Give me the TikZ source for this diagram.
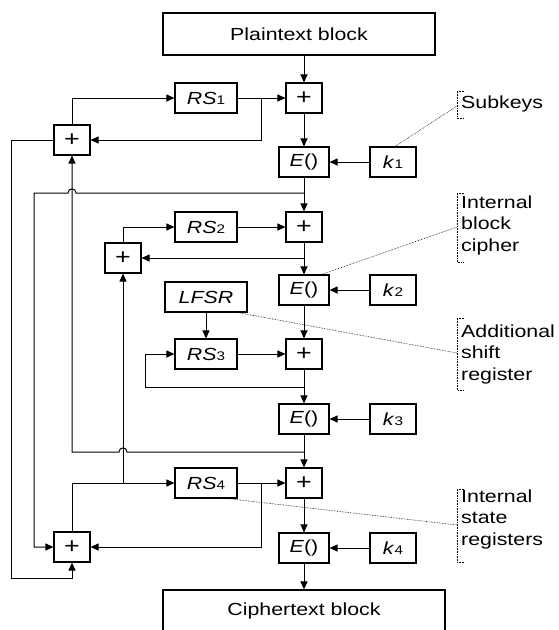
\documentclass[tikz,border=0pt]{standalone}
\usepackage{fontspec}
\setmainfont{Liberation Sans}[FakeStretch=1.22]
\usetikzlibrary{arrows.meta,calc}
\tikzset{
 blk/.style={draw, line width=1.1pt, minimum height=30pt, inner sep=0pt, font=\fontsize{17.5}{20}\selectfont},
 xorbox/.style={blk, minimum width=36pt, font=\fontsize{22}{22}\selectfont},
 ebox/.style={blk, minimum width=50pt},
 kbox/.style={blk, minimum width=46pt},
 rsbox/.style={blk, minimum width=62pt},
 bigbox/.style={blk, minimum height=42pt},
 arr/.style={line width=1pt, -{Triangle[length=8pt,width=7pt]}},
 lead/.style={densely dotted, line width=0.6pt},
 lbl/.style={anchor=west, align=left, inner sep=0pt, font=\fontsize{17.5}{21.5}\selectfont},
}
\newcommand{\smd}[1]{{\fontsize{12.5}{12.5}\selectfont #1}}
\begin{document}
\begin{tikzpicture}[x=1pt,y=-1pt]
\useasboundingbox (0,0) rectangle (558,630);
\clip (0,0) rectangle (558,630);
% main column
\node[bigbox, minimum width=272pt] (plain) at (299,34) {Plaintext block};
\node[xorbox] (x1) at (304,98) {+};
\node[ebox] (e1) at (304,162) {\textit{E}()};
\node[kbox] (k1) at (393,162) {\textit{k}\smd{1}};
\node[xorbox] (x2) at (304,227) {+};
\node[ebox] (e2) at (304,290) {\textit{E}()};
\node[kbox] (k2) at (393,290) {\textit{k}\smd{2}};
\node[xorbox] (x3) at (304,354) {+};
\node[ebox] (e3) at (304,419) {\textit{E}()};
\node[kbox] (k3) at (393,419) {\textit{k}\smd{3}};
\node[xorbox] (x4) at (304,483) {+};
\node[ebox] (e4) at (304,548) {\textit{E}()};
\node[kbox] (k4) at (393,548) {\textit{k}\smd{4}};
\node[bigbox, minimum width=282pt] (cipher) at (304,611) {Ciphertext block};
% registers
\node[rsbox] (rs1) at (206,98) {\textit{RS}\smd{1}};
\node[rsbox] (rs2) at (206,227) {\textit{RS}\smd{2}};
\node[rsbox, minimum width=82pt] (lfsr) at (206,297) {\textit{LFSR}};
\node[rsbox] (rs3) at (206,354) {\textit{RS}\smd{3}};
\node[rsbox] (rs4) at (206,483) {\textit{RS}\smd{4}};
% left xors
\node[xorbox] (a1) at (72,140) {+};
\node[xorbox] (a2) at (123,258) {+};
\node[xorbox] (a4) at (72,547) {+};
% junction coordinates
\coordinate (t1) at (304,193);
\coordinate (t2) at (304,258);
\coordinate (t3) at (304,387);
\coordinate (t4) at (304,452);
\coordinate (b1) at (261,98);
\coordinate (b4) at (261,483);
\coordinate (j4) at (123,483);
\coordinate (c1) at (11,578);
% main flow
\draw[arr] (plain.south -| x1.north) -- (x1.north);
\draw[arr] (x1) -- (e1);
\draw[arr] (e1) -- (x2);
\draw[arr] (x2) -- (e2);
\draw[arr] (e2) -- (x3);
\draw[arr] (x3) -- (e3);
\draw[arr] (e3) -- (x4);
\draw[arr] (x4) -- (e4);
\draw[arr] (e4) -- (e4 |- cipher.north);
\draw[arr] (k1) -- (e1);
\draw[arr] (k2) -- (e2);
\draw[arr] (k3) -- (e3);
\draw[arr] (k4) -- (e4);
\draw[arr] (rs1) -- (x1);
\draw[arr] (rs2) -- (x2);
\draw[arr] (rs3) -- (x3);
\draw[arr] (rs4) -- (x4);
\draw[arr] (lfsr) -- (rs3);
% feedback
\draw[arr] (a1.north) |- (rs1.west);
\draw[arr] (b1) |- (a1.east);
\draw[arr] (a1.west) -| (c1) -| (a4.south);
\draw[arr] (t1) -- (76,193) .. controls (76,187.5) and (68,187.5) .. (68,193) -- (34,193) |- (a4.west);
\draw[arr] (t2) -- (a2.east);
\draw[arr] (a2.north) |- (rs2.west);
\draw[arr] (t3) -- (145,387) |- (rs3.west);
\draw[arr] (t4) -- (127,452) .. controls (127,446.5) and (119,446.5) .. (119,452) -| (a1.south);
\draw[arr] (a4.north) |- (rs4.west);
\draw[arr] (j4) -- (a2.south);
\draw[arr] (b4) |- (a4.east);
% labels
\node[lbl] (l1) at (461,104) {Subkeys};
\node[lbl] (l2) at (461,225) {Internal\\block\\cipher};
\node[lbl] (l3) at (461,354) {Additional\\shift\\register};
\node[lbl] (l4) at (461,519) {Internal\\state\\registers};
\draw[lead] (464,91) -- (457,91) -- (457,118) -- (464,118);
\draw[lead] (464,193) -- (457,193) -- (457,262) -- (464,262);
\draw[lead] (464,318) -- (457,318) -- (457,390) -- (464,390);
\draw[lead] (464,489) -- (457,489) -- (457,562) -- (464,562);
\draw[lead] ($(k1.north)+(2,0)$) -- (457,106);
\draw[lead] ($(e2.north east)+(-8,0)$) -- (457,227);
\draw[lead] ($(lfsr.south east)+(-10,0)$) -- (457,353);
\draw[lead] ($(rs4.south east)+(-10,0)$) -- (457,525);
\end{tikzpicture}
\end{document}
